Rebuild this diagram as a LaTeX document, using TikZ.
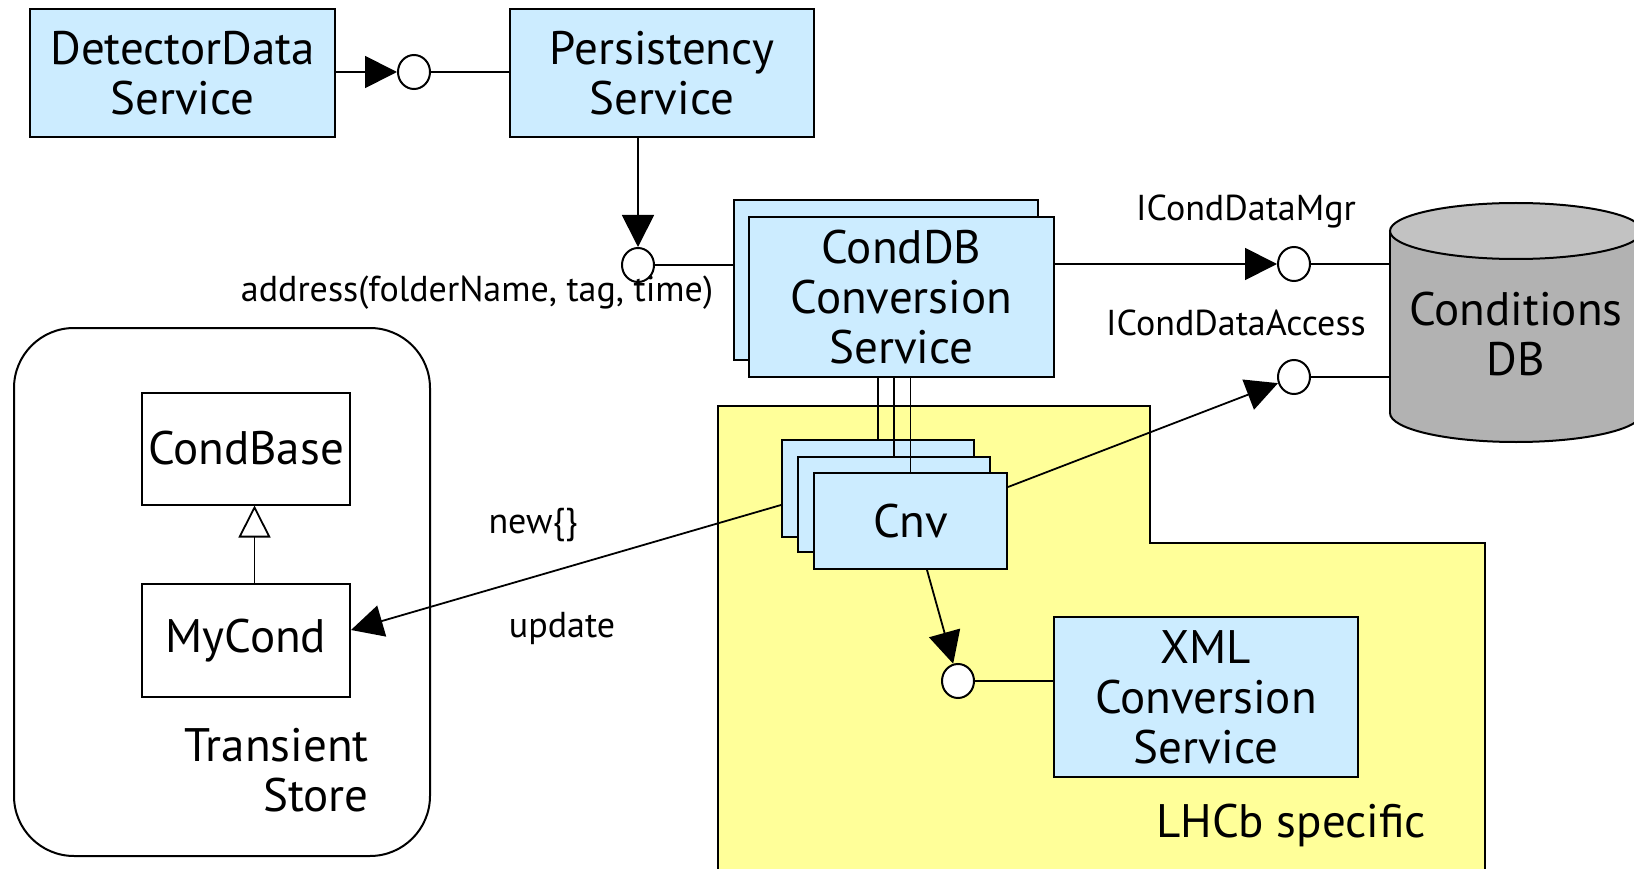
\documentclass[tikz,border=0pt]{standalone}
\usepackage{fontspec}
\setmainfont{PT Sans}
\usetikzlibrary{arrows.meta,shapes.geometric}
\definecolor{svcblue}{RGB}{204,236,255}
\definecolor{lhcbyellow}{RGB}{255,255,153}
\definecolor{dbbody}{RGB}{178,178,178}
\definecolor{dbtop}{RGB}{194,194,194}
\newcommand{\svcfont}{\fontsize{47}{50}\selectfont}
\newcommand{\lblfont}{\fontsize{36}{40}\selectfont}
\begin{document}
\begin{tikzpicture}[x=1pt,y=-1pt,
  svc/.style={draw, line width=2pt, fill=svcblue, align=center, inner sep=0pt, font=\svcfont},
  cls/.style={draw, line width=2pt, fill=white, align=center, inner sep=0pt, font=\svcfont},
  iface/.style={draw, line width=2pt, fill=white, ellipse, minimum width=32pt, minimum height=34pt, inner sep=0pt},
  conn/.style={line width=1.8pt},
  uses/.style={conn, -{Triangle[length=32pt,width=32pt]}},
  inherit/.style={conn, -{Triangle[open,length=32pt,width=32pt,fill=white]}},
  lbl/.style={font=\lblfont, inner sep=0pt},
  biglbl/.style={font=\svcfont, inner sep=0pt, align=center},
]
\useasboundingbox (0,0) rectangle (1634,869);
\clip (0,0) rectangle (1634,869);

% LHCb specific area
\filldraw[fill=lhcbyellow, line width=2pt]
  (718,406) -- (1150,406) -- (1150,543) -- (1485,543) -- (1485,890) -- (718,890) -- cycle;
\node[biglbl] (lhcb) at (1291,825) {LHCb specific};

% transient store
\node[draw, line width=2pt, rounded corners=60pt, minimum width=416pt, minimum height=528pt] (store) at (222,592) {};
\node[biglbl, align=right, anchor=east] (storelbl) at (369,770.5) {Transient\\Store};
\node[cls, minimum width=208pt, minimum height=112pt] (condbase) at (246,448.5) {CondBase};
\node[cls, minimum width=208pt, minimum height=113pt] (mycond) at (246,640.5) {MyCond};

% services
\node[svc, minimum width=305pt, minimum height=128pt] (det) at (182.5,73) {DetectorData\\Service};
\node[svc, minimum width=304pt, minimum height=128pt] (pers) at (662,73) {Persistency\\Service};
\node[svc, minimum width=304pt, minimum height=160pt] (cdbback) at (886,280) {};
\node[svc, minimum width=305pt, minimum height=160pt] (cdbfront) at (901.5,297) {CondDB\\Conversion\\Service};
\node[svc, minimum width=304pt, minimum height=160pt] (xml) at (1206,697) {XML\\Conversion\\Service};

% converters
\node[svc, minimum width=192pt, minimum height=97pt] (cnv1) at (878,488.5) {};
\node[svc, minimum width=192pt, minimum height=95pt] (cnv2) at (894,504.5) {};
\node[svc, minimum width=193pt, minimum height=96pt] (cnv3) at (910.5,521) {Cnv};

% conditions database
\filldraw[fill=dbbody, line width=2pt] (1516,413) ellipse [x radius=126, y radius=29];
\fill[dbbody] (1390,231) rectangle (1642,413);
\draw[line width=2pt] (1390,231) -- (1390,413) (1642,231) -- (1642,413);
\filldraw[fill=dbtop, line width=2pt] (1516,231) ellipse [x radius=126, y radius=28];
\node[biglbl] (cdb) at (1516,334) {Conditions\\DB};
\coordinate (cdbwest) at (1390,320);

% interfaces
\node[iface] (c1) at (414,72) {};
\node[iface] (c2) at (638,265) {};
\node[iface] (c3) at (1294,264) {};
\node[iface] (c4) at (1294,377) {};
\node[iface] (c5) at (958,681) {};

% connectors
\draw[uses] (c1 -| det.east) -- (c1);
\draw[conn] (c1) -- (c1 -| pers.west);
\draw[uses] (c2 |- pers.south) -- (c2);
\draw[conn] (c2) -- (c2 -| cdbback.west);
\draw[uses] (c3 -| cdbfront.east) -- (c3);
\draw[conn] (c3) -- (c3 -| cdbwest);
\draw[conn] (c4) -- (c4 -| cdbwest);
\draw[uses] ([yshift=34pt]cnv3.east) -- (c4);
\draw[uses] ([xshift=16.5pt]cnv3.south) -- (c5);
\draw[conn] (c5) -- (c5 -| xml.west);
\draw[uses] ([yshift=-16.5pt]cnv1.west) -- ([yshift=10.5pt]mycond.east);
\draw[inherit] ([xshift=8.5pt]mycond.north) -- ([xshift=8.5pt]condbase.south);
\foreach \c in {cnv1,cnv2,cnv3}
  \draw[conn] (\c.north) -- (\c.north |- cdbfront.south);

% labels
\node[lbl] (addr) at (477,293) {address(folderName, tag, time)};
\node[lbl] (mgr) at (1246,212) {ICondDataMgr};
\node[lbl] (acc) at (1236,323) {ICondDataAccess};
\node[lbl] (newlbl) at (533,525) {new\{\}};
\node[lbl] (updlbl) at (562,628) {update};
\end{tikzpicture}
\end{document}
